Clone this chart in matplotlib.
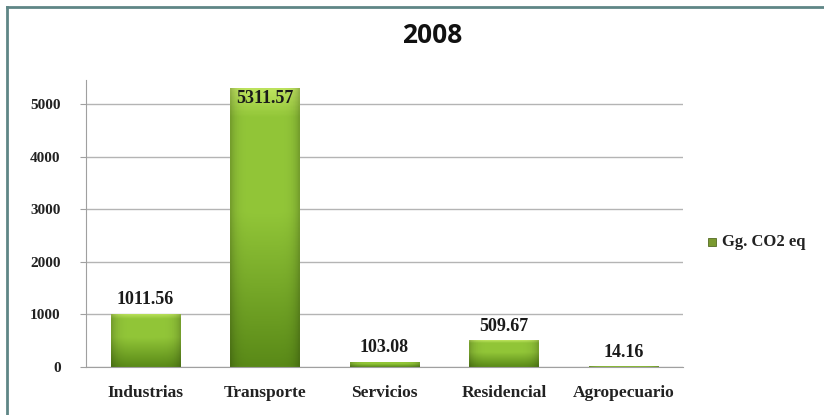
import numpy as np
import matplotlib
matplotlib.use("Agg")
import matplotlib.pyplot as plt
from matplotlib.patches import Rectangle
from matplotlib.colors import to_rgb

# emissions by sector, 2008
sectors = ["Industrias", "Transporte", "Servicios", "Residencial", "Agropecuario"]
emissions = [1011.56, 5311.57, 103.08, 509.67, 14.16]
series_name = "Gg. CO2 eq"
year = "2008"
yticks = [0, 1000, 2000, 3000, 4000, 5000]

serif = ["Liberation Serif", "DejaVu Serif"]
light = np.array(to_rgb("#bde35e"))
mid = np.array(to_rgb("#92c638"))
dark = np.array(to_rgb("#5a8a18"))


def bar_gradient(n=60, m=40):
    # vertical shade: dark at base, light at top, with a bright band at the top edge
    t = np.linspace(0, 1, n)[:, None]
    col = dark + (mid - dark) * np.clip(t * 1.8, 0, 1)[..., None]
    top = np.clip((t - 0.9) / 0.1, 0, 1)[..., None]
    col = col * (1 - top) + light * top
    # slightly darker left/right edges
    s = np.linspace(-1, 1, m)[None, :]
    edge = 1 - 0.2 * np.abs(s) ** 6
    return np.clip(col * edge[..., None], 0, 1)


fig = plt.figure(figsize=(8.24, 4.15), dpi=100)
ax = fig.add_axes([0.104, 0.1157, 0.725, 0.691])

x = np.arange(len(sectors))
bars = ax.bar(x, emissions, width=0.58, color=mid, zorder=2)
grad = bar_gradient()
for b in bars:
    b.set_facecolor("none")
    im = ax.imshow(grad, origin="lower", aspect="auto", zorder=2,
                   extent=[b.get_x(), b.get_x() + b.get_width(), 0, b.get_height()])
    im.set_clip_path(b)

ax.set_xlim(-0.5, len(sectors) - 0.5)
ax.set_ylim(0, 5450)
ax.set_yticks(yticks)
ax.set_yticklabels([str(v) for v in yticks], fontfamily=serif, fontweight="bold",
                   fontsize=11, color="#222222")
ax.set_xticks(x)
ax.set_xticklabels(sectors, fontfamily=serif, fontweight="bold", fontsize=12.5,
                   color="#222222")
ax.tick_params(axis="y", length=4, color="#a0a0a0", pad=14)
ax.tick_params(axis="x", length=0, pad=13)
ax.yaxis.grid(True, color="#b4b4b4", linewidth=1, zorder=0)
ax.set_axisbelow(True)
for side in ["top", "right"]:
    ax.spines[side].set_visible(False)
for side in ["left", "bottom"]:
    ax.spines[side].set_color("#a0a0a0")

# value labels; the tallest one sits inside the top of its bar
ymax = ax.get_ylim()[1]
for xi, v in zip(x, emissions):
    if v > ymax * 0.9:
        ax.text(xi, v - 50, f"{v:.2f}", ha="center", va="top", fontfamily=serif,
                fontweight="bold", fontsize=13, color="#1a1a1a", zorder=3)
    else:
        ax.text(xi, v + 100, f"{v:.2f}", ha="center", va="bottom", fontfamily=serif,
                fontweight="bold", fontsize=13, color="#1a1a1a", zorder=3)

fig.text(0.524, 0.915, year, ha="center", va="center", fontfamily="Open Sans",
         fontweight="bold", fontsize=19, color="#111111")

# legend entry on the right
fig.patches.append(Rectangle((0.859, 0.408), 0.0095, 0.019, transform=fig.transFigure,
                             facecolor="#7a9a30", edgecolor="#556b22", linewidth=0.6))
fig.text(0.876, 0.417, series_name, ha="left", va="center", fontfamily=serif,
         fontweight="bold", fontsize=12, color="#222222")

# outer chart border (left and top visible)
fig.add_artist(plt.Line2D([0.0085, 0.0085], [0.0, 0.983], transform=fig.transFigure,
                          color="#5f8686", linewidth=2))
fig.add_artist(plt.Line2D([0.0085, 1.0], [0.983, 0.983], transform=fig.transFigure,
                          color="#5f8686", linewidth=2))

fig.savefig("out.png", dpi=100)
